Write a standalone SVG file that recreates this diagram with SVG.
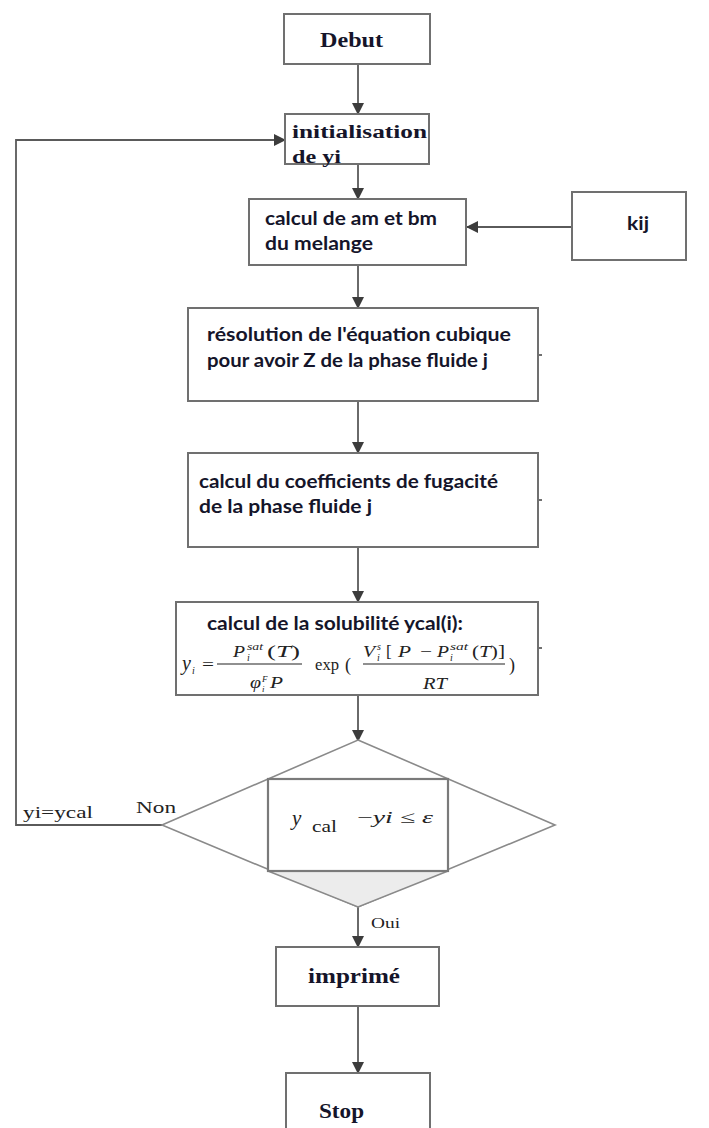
<svg xmlns="http://www.w3.org/2000/svg" width="709" height="1128" viewBox="0 0 709 1128">
  <style>
    .box { fill: #ffffff; stroke: #707070; stroke-width: 2; }
    .tick { stroke: #707070; stroke-width: 2; }
    .edge { fill: none; stroke: #5a5a5a; stroke-width: 1.8; }
    .dia { fill: #ffffff; stroke: #8a8a8a; stroke-width: 1.6; }
    .serifb { font-family: "Liberation Serif", serif; font-weight: bold; fill: #15152a; }
    .sansb { font-family: Lato, "Open Sans", sans-serif; font-weight: bold; fill: #15152a; }
    .m { font-family: "Liberation Serif", "DejaVu Serif", serif; fill: #222; }
    .mi { font-family: "Liberation Serif", "DejaVu Serif", serif; font-style: italic; fill: #222; }
    .lbl { font-family: "Liberation Serif", serif; fill: #222; }
    .bar { stroke: #222; stroke-width: 1.2; }
  </style>
  <defs>
    <marker id="arrow" markerUnits="userSpaceOnUse" markerWidth="12" markerHeight="12" viewBox="0 0 12 12" refX="11" refY="6" orient="auto">
      <path d="M0,0 L12,6 L0,12 Z" fill="#3c3c3c"/>
    </marker>
  </defs>

  <rect width="709" height="1128" fill="#ffffff"/>

  <!-- connectors -->
  <g id="connectors">
    <line class="edge" x1="358" y1="64" x2="358" y2="114" marker-end="url(#arrow)"/>
    <line class="edge" x1="358" y1="164" x2="358" y2="199" marker-end="url(#arrow)"/>
    <line class="edge" x1="572" y1="227" x2="467" y2="227" marker-end="url(#arrow)"/>
    <line class="edge" x1="358" y1="265" x2="358" y2="308" marker-end="url(#arrow)"/>
    <line class="edge" x1="358" y1="401" x2="358" y2="453" marker-end="url(#arrow)"/>
    <line class="edge" x1="358" y1="547" x2="358" y2="602" marker-end="url(#arrow)"/>
    <line class="edge" x1="358" y1="695" x2="358" y2="741" marker-end="url(#arrow)"/>
    <line class="edge" x1="358" y1="907" x2="358" y2="947" marker-end="url(#arrow)"/>
    <line class="edge" x1="358" y1="1006" x2="358" y2="1073" marker-end="url(#arrow)"/>
    <path class="edge" d="M162,825 H16 V140 H285" marker-end="url(#arrow)"/>
    <text class="lbl" x="136" y="813" font-size="16" textLength="40" lengthAdjust="spacingAndGlyphs">Non</text>
    <text class="lbl" x="23" y="818" font-size="17" textLength="70" lengthAdjust="spacingAndGlyphs">yi=ycal</text>
    <text class="lbl" x="371" y="928" font-size="14" textLength="29" lengthAdjust="spacingAndGlyphs">Oui</text>
  </g>

  <!-- start -->
  <g id="debut">
    <rect class="box" x="284" y="14" width="146" height="50"/>
    <text class="serifb" x="320" y="47" font-size="20" textLength="63" lengthAdjust="spacingAndGlyphs">Debut</text>
  </g>

  <!-- initial guess -->
  <g id="init">
    <rect class="box" x="285" y="114" width="144" height="50"/>
    <text class="serifb" x="292" y="138" font-size="18" textLength="135" lengthAdjust="spacingAndGlyphs">initialisation</text>
    <text class="serifb" x="292" y="163" font-size="18" textLength="49" lengthAdjust="spacingAndGlyphs">de yi</text>
  </g>

  <!-- mixing rule -->
  <g id="calc-am-bm">
    <rect class="box" x="249" y="199" width="217" height="66"/>
    <text class="sansb" x="265" y="225" font-size="18" textLength="172" lengthAdjust="spacingAndGlyphs">calcul de am et bm</text>
    <text class="sansb" x="265" y="250" font-size="18" textLength="108" lengthAdjust="spacingAndGlyphs">du melange</text>
  </g>

  <!-- interaction parameter -->
  <g id="kij">
    <rect class="box" x="572" y="192" width="114" height="68"/>
    <text class="sansb" x="627" y="230" font-size="18" textLength="22" lengthAdjust="spacingAndGlyphs">kij</text>
  </g>

  <!-- cubic equation -->
  <g id="resolution">
    <rect class="box" x="188" y="308" width="350" height="93"/>
    <line class="tick" x1="538" y1="355" x2="542" y2="355"/>
    <text class="sansb" x="207" y="341" font-size="18" textLength="304" lengthAdjust="spacingAndGlyphs">résolution de l'équation cubique</text>
    <text class="sansb" x="207" y="367" font-size="18" textLength="281" lengthAdjust="spacingAndGlyphs">pour avoir Z de la phase fluide j</text>
  </g>

  <!-- fugacity coefficients -->
  <g id="fugacite">
    <rect class="box" x="188" y="453" width="350" height="94"/>
    <line class="tick" x1="538" y1="500" x2="542" y2="500"/>
    <text class="sansb" x="199" y="488" font-size="18" textLength="299" lengthAdjust="spacingAndGlyphs">calcul du coefficients de fugacité</text>
    <text class="sansb" x="199" y="513" font-size="18" textLength="173" lengthAdjust="spacingAndGlyphs">de la phase fluide j</text>
  </g>

  <!-- solubility -->
  <g id="solubilite">
    <rect class="box" x="176" y="602" width="362" height="93"/>
    <line class="tick" x1="538" y1="648" x2="542" y2="648"/>
    <text class="sansb" x="207" y="630" font-size="18" textLength="256" lengthAdjust="spacingAndGlyphs">calcul de la solubilité ycal(i):</text>
    <!-- y_i = P_i^sat(T) / (phi_i^F P) exp( V_i^s [P - P_i^sat(T)] / RT ) -->
    <text class="mi" x="182" y="670" font-size="20">y</text>
    <text class="mi" x="192" y="674" font-size="10">i</text>
    <text class="m" x="202" y="670" font-size="17" textLength="12" lengthAdjust="spacingAndGlyphs">=</text>
    <line class="bar" x1="217" y1="664" x2="302" y2="664"/>
    <text class="mi" x="233" y="657" font-size="17" textLength="12" lengthAdjust="spacingAndGlyphs">P</text>
    <text class="mi" x="247" y="650" font-size="10" textLength="16" lengthAdjust="spacingAndGlyphs">sat</text>
    <text class="mi" x="247" y="661" font-size="10">i</text>
    <text class="m" x="267" y="657" font-size="17" textLength="33" lengthAdjust="spacingAndGlyphs">(<tspan class="mi">T</tspan>)</text>
    <text class="mi" x="250" y="688" font-size="17" textLength="11" lengthAdjust="spacingAndGlyphs">φ</text>
    <text class="mi" x="262" y="682" font-size="9">F</text>
    <text class="mi" x="262" y="692" font-size="9">i</text>
    <text class="mi" x="270" y="688" font-size="17" textLength="13" lengthAdjust="spacingAndGlyphs">P</text>
    <text class="m" x="315" y="670" font-size="17" textLength="24" lengthAdjust="spacingAndGlyphs">exp</text>
    <text class="m" x="345" y="671" font-size="18">(</text>
    <line class="bar" x1="363" y1="664" x2="505" y2="664"/>
    <text class="mi" x="363" y="657" font-size="17" textLength="12" lengthAdjust="spacingAndGlyphs">V</text>
    <text class="mi" x="377" y="650" font-size="10">s</text>
    <text class="mi" x="377" y="661" font-size="10">i</text>
    <text class="m" x="386" y="657" font-size="17">[</text>
    <text class="mi" x="398" y="657" font-size="17" textLength="13" lengthAdjust="spacingAndGlyphs">P</text>
    <text class="m" x="420" y="657" font-size="17" textLength="12" lengthAdjust="spacingAndGlyphs">−</text>
    <text class="mi" x="437" y="657" font-size="17" textLength="12" lengthAdjust="spacingAndGlyphs">P</text>
    <text class="mi" x="450" y="650" font-size="10" textLength="18" lengthAdjust="spacingAndGlyphs">sat</text>
    <text class="mi" x="450" y="661" font-size="10">i</text>
    <text class="m" x="472" y="657" font-size="17" textLength="33" lengthAdjust="spacingAndGlyphs">(<tspan class="mi">T</tspan>)]</text>
    <text class="mi" x="423" y="689" font-size="17" textLength="24" lengthAdjust="spacingAndGlyphs">RT</text>
    <text class="m" x="509" y="671" font-size="18">)</text>
  </g>

  <!-- convergence test -->
  <g id="test">
    <polygon class="dia" points="358,740 555,825 358,907 162,825"/>
    <polygon points="268,871 448,871 358,907" fill="#ececec" stroke="#8a8a8a" stroke-width="1.6"/>
    <rect x="268" y="779" width="180" height="92" fill="#ffffff" stroke="#7a7a7a" stroke-width="2.2"/>
    <text class="mi" x="292" y="825" font-size="21">y</text>
    <text class="m" x="312" y="832" font-size="17" textLength="25" lengthAdjust="spacingAndGlyphs">cal</text>
    <text class="m" x="357" y="823" font-size="17" textLength="76" lengthAdjust="spacingAndGlyphs">−<tspan class="mi">yi</tspan> ≤ <tspan class="mi">ε</tspan></text>
  </g>

  <!-- output -->
  <g id="imprime">
    <rect class="box" x="276" y="947" width="163" height="59"/>
    <text class="serifb" x="308" y="983" font-size="20" textLength="92" lengthAdjust="spacingAndGlyphs">imprimé</text>
  </g>

  <!-- end -->
  <g id="stop">
    <rect class="box" x="286" y="1073" width="144" height="70"/>
    <text class="serifb" x="319" y="1118" font-size="21" textLength="45" lengthAdjust="spacingAndGlyphs">Stop</text>
  </g>
</svg>
